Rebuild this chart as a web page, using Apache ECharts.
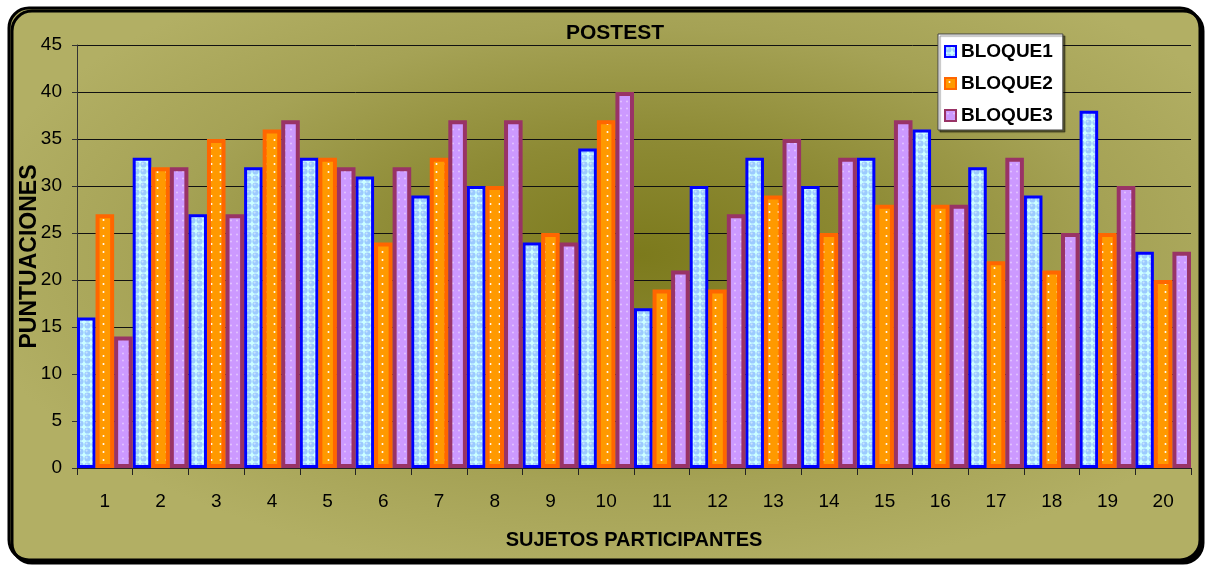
<!DOCTYPE html>
<html><head><meta charset="utf-8">
<script src="https://cdn.jsdelivr.net/npm/echarts@6/dist/echarts.min.js"></script>
<style>html,body{margin:0;padding:0;background:#fff}#c{width:1208px;height:569px}</style>
</head><body><div id="c"></div>
<script>
const categories = ['1','2','3','4','5','6','7','8','9','10','11','12','13','14','15','16','17','18','19','20'];
const bloque1 = [16,33,27,32,33,31,29,30,24,34,17,30,33,30,33,36,32,29,38,23];
const bloque2 = [27,32,35,36,33,24,33,30,25,37,19,19,29,25,28,28,22,21,25,20];
const bloque3 = [14,32,27,37,32,32,37,37,24,40,21,27,35,33,37,28,33,25,30,23];
const seriesNames = ['BLOQUE1','BLOQUE2','BLOQUE3'];
const yMin = 0, yMax = 45, yStep = 5;

function tile(w, h, bg, draw) {
  const c = document.createElement('canvas');
  c.width = w; c.height = h;
  const ctx = c.getContext('2d');
  ctx.fillStyle = bg; ctx.fillRect(0, 0, w, h);
  draw(ctx);
  return { image: c, repeat: 'repeat' };
}
const bluePat = tile(7, 7, '#ccffff', ctx => {
  ctx.fillStyle = '#9ccaff';
  ctx.beginPath(); ctx.arc(3.5, 3.5, 3.1, 0, Math.PI*2); ctx.fill();
  ctx.fillStyle = '#c6e4ff';
  ctx.beginPath(); ctx.arc(2.6, 2.6, 1.1, 0, Math.PI*2); ctx.fill();
});
const orangePat = tile(9, 8, '#ff9900', ctx => {
  ctx.fillStyle = '#ffffff';
  ctx.beginPath(); ctx.arc(4.5, 4, 1, 0, Math.PI*2); ctx.fill();
});
const purplePat = tile(6, 7, '#cc99ff', ctx => {
  ctx.fillStyle = '#e6c8ff';
  ctx.beginPath(); ctx.arc(3, 3.5, 0.9, 0, Math.PI*2); ctx.fill();
});

// background (elliptical radial gradient)
const bgCanvas = document.createElement('canvas');
bgCanvas.width = 1208; bgCanvas.height = 569;
(function(){
  const ctx = bgCanvas.getContext('2d');
  ctx.save();
  ctx.translate(640, 255);
  ctx.scale(1, 0.48);
  const g = ctx.createRadialGradient(0, 0, 0, 0, 0, 680);
  g.addColorStop(0, '#7c7a1c');
  g.addColorStop(0.35, '#8d8a34');
  g.addColorStop(0.7, '#a5a255');
  g.addColorStop(1, '#b2af64');
  ctx.fillStyle = g;
  ctx.fillRect(-1000, -1500, 2000, 3000);
  ctx.restore();
})();

const chart = echarts.init(document.getElementById('c'));
const fontBase = "'Liberation Sans', Arial, sans-serif";

chart.setOption({
  animation: false,
  graphic: { elements: [{
    type: 'rect', z: -10, silent: true,
    shape: { x: 9, y: 8, width: 1191, height: 552, r: 20 },
    style: { fill: { image: bgCanvas, repeat: 'no-repeat' }, stroke: '#000', lineWidth: 3,
             shadowColor: '#000', shadowOffsetX: 3, shadowOffsetY: 3, shadowBlur: 0 }
  }]},
  title: {
    text: 'POSTEST', left: 561, top: 18,
    textStyle: { fontFamily: fontBase, fontSize: 21, fontWeight: 'bold', color: '#000' }
  },
  legend: {
    data: seriesNames, orient: 'vertical', left: 938, top: 34,
    backgroundColor: '#fff', borderColor: '#444', borderWidth: 1,
    shadowColor: 'rgba(0,0,0,0.45)', shadowOffsetX: 2, shadowOffsetY: 2, shadowBlur: 1,
    padding: [8, 10, 5, 6], itemWidth: 11, itemHeight: 11, itemGap: 13, icon: 'rect',
    textStyle: { fontFamily: fontBase, fontSize: 19, fontWeight: 'bold', color: '#000' }
  },
  grid: { left: 77, right: 17, top: 45, bottom: 101, containLabel: false },
  xAxis: {
    type: 'category', data: categories,
    name: 'SUJETOS PARTICIPANTES', nameLocation: 'middle', nameGap: 62, nameMoveOverlap: false,
    nameTextStyle: { fontFamily: fontBase, fontSize: 20, fontWeight: 'bold', color: '#000' },
    axisLine: { lineStyle: { color: '#222', width: 1 } },
    axisTick: { show: true, length: 7, lineStyle: { color: '#222' } },
    axisLabel: { margin: 24, fontFamily: fontBase, fontSize: 19, color: '#000' },
    splitLine: { show: false }
  },
  yAxis: {
    type: 'value', min: yMin, max: yMax, interval: yStep,
    name: 'PUNTUACIONES', nameLocation: 'middle', nameGap: 36, nameRotate: 90, nameMoveOverlap: false,
    nameTextStyle: { fontFamily: fontBase, fontSize: 23, fontWeight: 'bold', color: '#000' },
    axisLine: { show: true, lineStyle: { color: '#333', width: 1 } },
    axisTick: { show: true, length: 5, lineStyle: { color: '#333' } },
    axisLabel: { margin: 15, fontFamily: fontBase, fontSize: 19, color: '#000' },
    splitLine: { show: true, lineStyle: { color: '#111', width: 1 } }
  },
  series: [
    { name: seriesNames[0], type: 'bar', data: bloque1, barGap: '0%', barCategoryGap: '0%',
      itemStyle: { color: bluePat, borderColor: '#0000ff', borderWidth: 3 } },
    { name: seriesNames[1], type: 'bar', data: bloque2, barGap: '0%', barCategoryGap: '0%',
      itemStyle: { color: orangePat, borderColor: '#ff6600', borderWidth: 4 } },
    { name: seriesNames[2], type: 'bar', data: bloque3, barGap: '0%', barCategoryGap: '0%',
      itemStyle: { color: purplePat, borderColor: '#993366', borderWidth: 4 } }
  ]
});
</script></body></html>
